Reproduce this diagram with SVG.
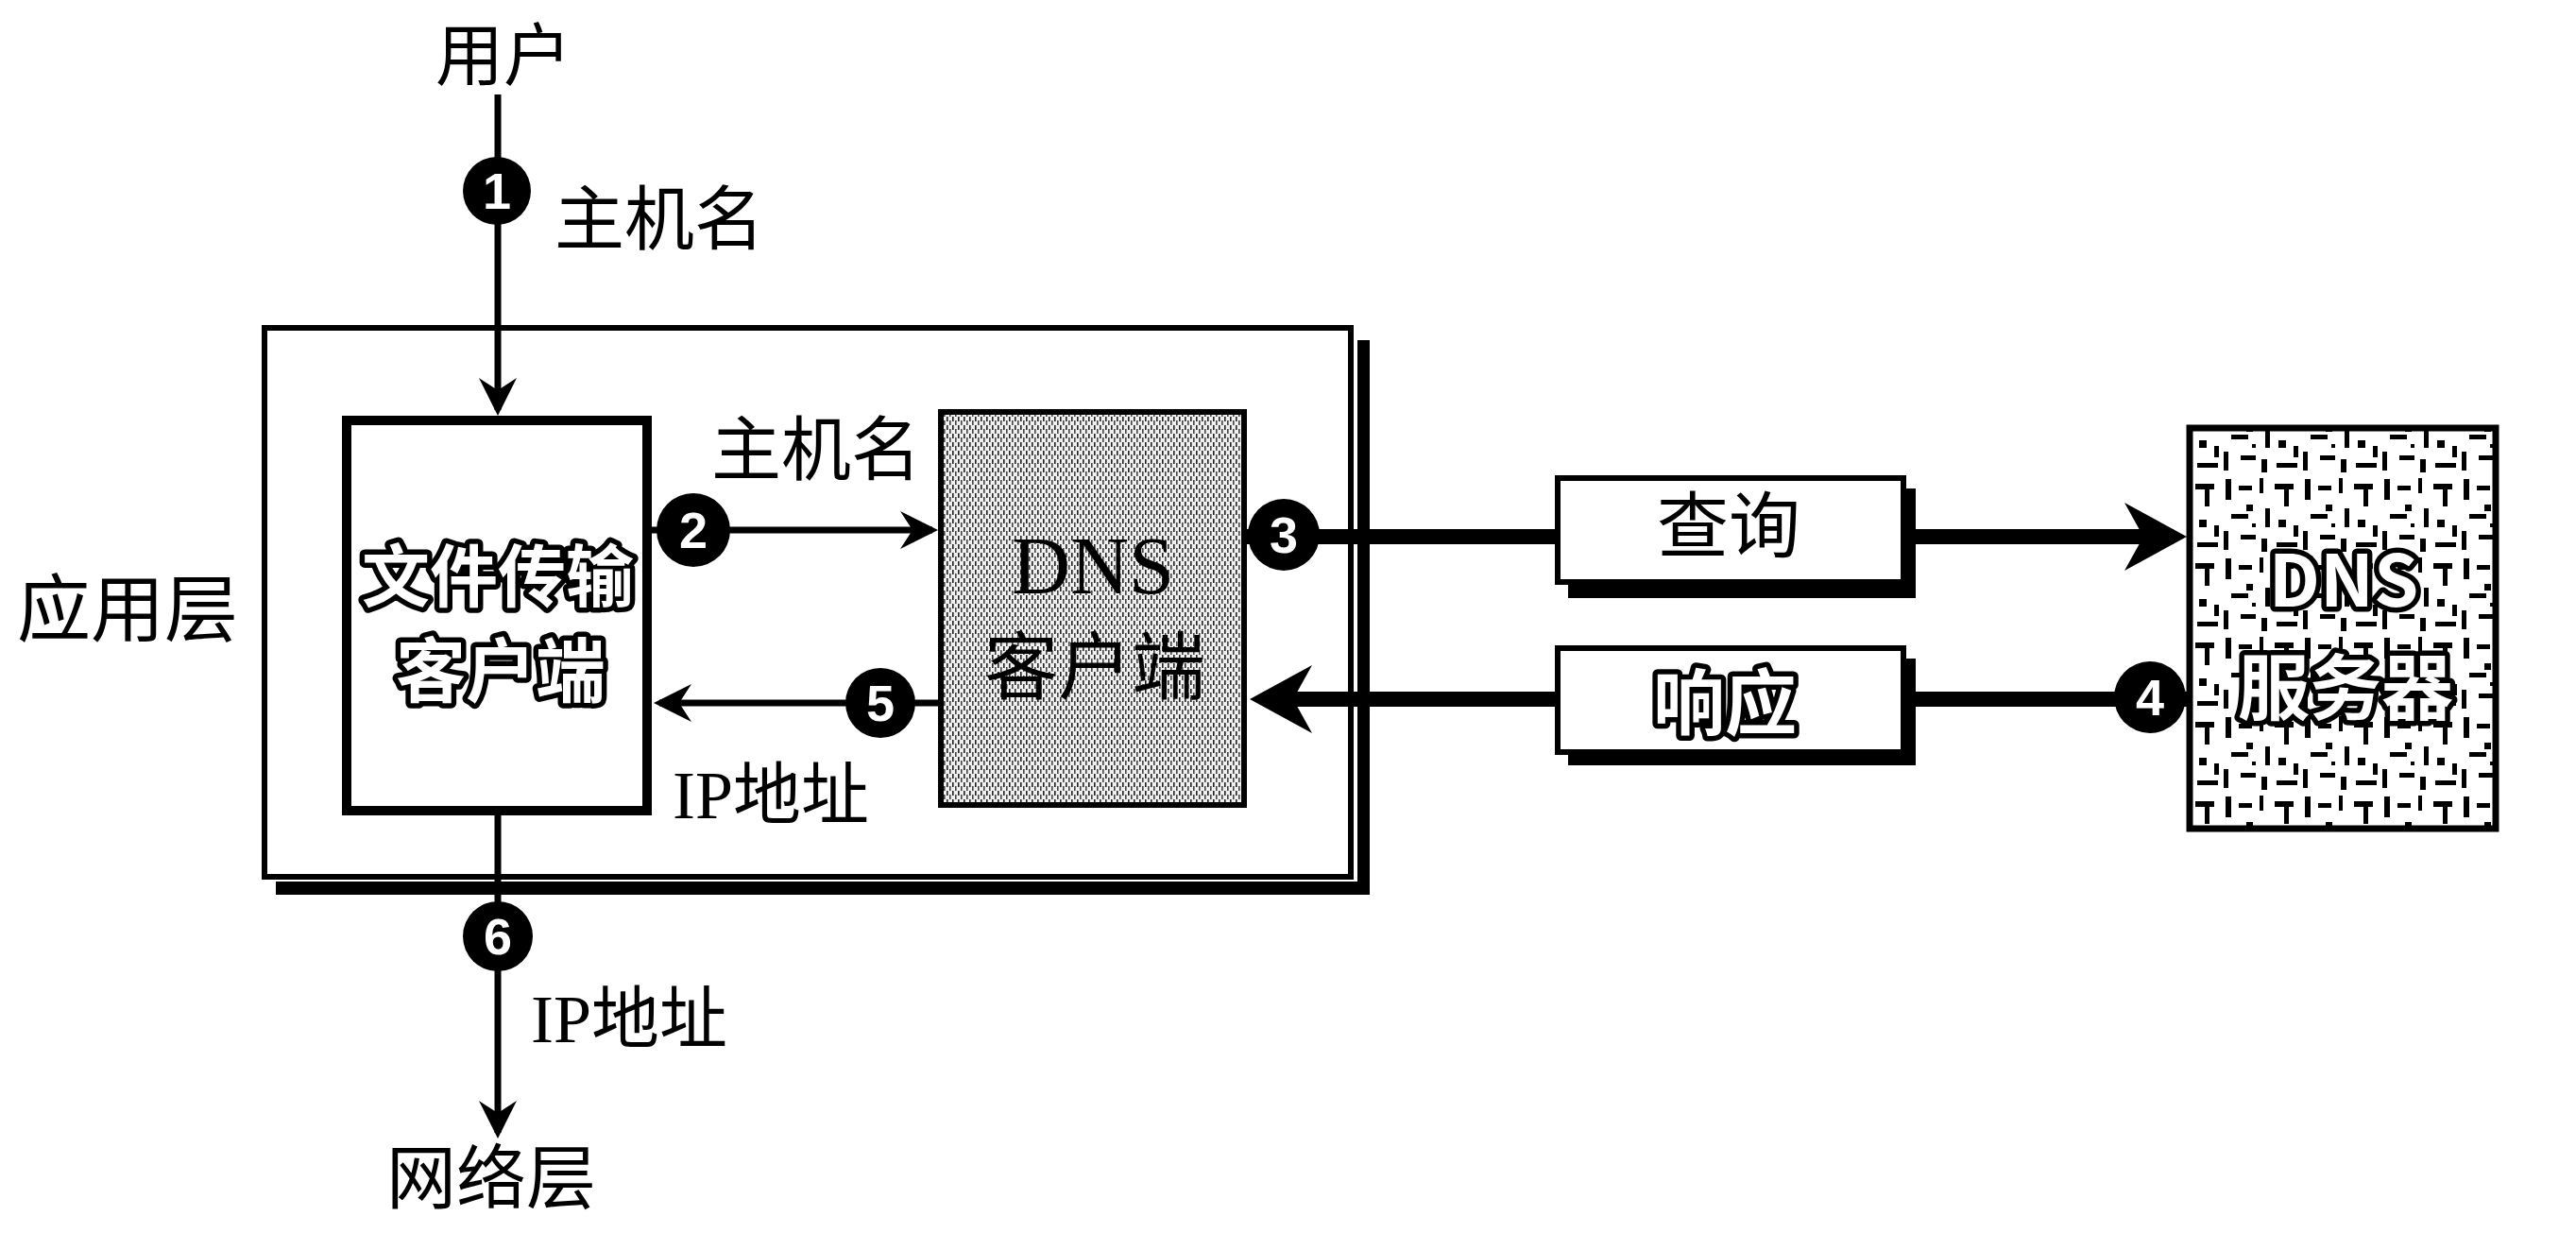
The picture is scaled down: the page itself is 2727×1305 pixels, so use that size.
<svg xmlns="http://www.w3.org/2000/svg" width="2727" height="1305" viewBox="0 0 2727 1305">
<style>
.cjk{font-family:"Noto Sans CJK SC","Liberation Sans",sans-serif;fill:#000}
.mix{font-family:"Liberation Serif","Noto Sans CJK SC",serif;fill:#000}
.out{font-family:"Noto Sans CJK SC","Liberation Sans",sans-serif;font-weight:bold;fill:#fff;stroke:#000;stroke-width:11;paint-order:stroke;stroke-linejoin:round}
.thin{stroke:#000;stroke-width:7;fill:none}
.thick{stroke:#000;stroke-width:16;fill:none}
.box{fill:#fff;stroke:#000;stroke-width:6}
.num{font-family:"Liberation Sans",sans-serif;font-weight:bold;font-size:54px;fill:#fff;text-anchor:middle}
</style>
<defs>
<marker id="ah" viewBox="-44 -24 48 48" refX="-6" refY="0" markerUnits="userSpaceOnUse" markerWidth="48" markerHeight="48" orient="auto">
<path d="M0,0 L-40,-20 L-27,0 L-40,20 Z" fill="#000"/>
</marker>
<marker id="ahT" viewBox="-72 -40 76 80" refX="-14" refY="0" markerUnits="userSpaceOnUse" markerWidth="76" markerHeight="80" orient="auto">
<path d="M0,0 L-66,-36 L-46,0 L-66,36 Z" fill="#000"/>
</marker>
<pattern id="hatch" width="6" height="9" patternUnits="userSpaceOnUse">
<rect width="6" height="9" fill="#f0f0f0"/>
<rect x="0" y="0" width="1.6" height="5" fill="#222"/>
<rect x="3" y="4" width="1.6" height="5" fill="#444"/>
</pattern>
<pattern id="noise" width="84" height="84" patternUnits="userSpaceOnUse">
<rect width="84" height="84" fill="#fff"/>
<rect x="4" y="3" width="6" height="22" fill="#000"/>
<rect x="18" y="10" width="14" height="5" fill="#000"/>
<rect x="40" y="2" width="4" height="16" fill="#000"/>
<rect x="56" y="8" width="20" height="6" fill="#000"/>
<rect x="66" y="14" width="5" height="18" fill="#000"/>
<rect x="26" y="30" width="7" height="7" fill="#000"/>
<rect x="10" y="40" width="18" height="5" fill="#000"/>
<rect x="46" y="34" width="5" height="20" fill="#000"/>
<rect x="60" y="46" width="8" height="8" fill="#000"/>
<rect x="2" y="58" width="5" height="20" fill="#000"/>
<rect x="20" y="62" width="16" height="5" fill="#000"/>
<rect x="42" y="66" width="6" height="14" fill="#000"/>
<rect x="58" y="70" width="22" height="5" fill="#000"/>
<rect x="76" y="52" width="5" height="12" fill="#000"/>
<rect x="32" y="50" width="4" height="4" fill="#000"/>
</pattern>
</defs>
<rect width="2727" height="1305" fill="#fff"/>

<g id="app-layer">
<rect x="292" y="933" width="1158" height="14" fill="#000"/>
<rect x="1437" y="360" width="13" height="587" fill="#000"/>
<rect class="box" x="280" y="347" width="1150" height="581"/>
<text class="cjk" x="18" y="673" font-size="78">应用层</text>
</g>

<g id="connectors">
<line class="thin" x1="527" y1="100" x2="527" y2="434" marker-end="url(#ah)"/>
<line class="thin" x1="527" y1="863" x2="527" y2="1199" marker-end="url(#ah)"/>
<line class="thin" x1="690" y1="561" x2="987" y2="561" marker-end="url(#ah)"/>
<line class="thin" x1="993" y1="744" x2="698" y2="744" marker-end="url(#ah)"/>
<line class="thick" x1="1320" y1="568" x2="1646" y2="568"/>
<line class="thick" x1="2028" y1="568" x2="2301" y2="568" marker-end="url(#ahT)"/>
<line class="thick" x1="2315" y1="740" x2="2028" y2="740"/>
<line class="thick" x1="1646" y1="740" x2="1337" y2="740" marker-end="url(#ahT)"/>
</g>

<g id="user">
<text class="cjk" x="533" y="84" font-size="72" text-anchor="middle">用户</text>
</g>
<g id="network-layer">
<text class="cjk" x="520" y="1273" font-size="74" text-anchor="middle">网络层</text>
</g>

<g id="ftp-client">
<rect x="367" y="445" width="318" height="413" fill="#fff" stroke="#000" stroke-width="10"/>
<text class="out" x="527" y="636" font-size="72" text-anchor="middle">文件传输</text>
<text class="out" x="530" y="737" font-size="74" text-anchor="middle">客户端</text>
</g>

<g id="dns-client">
<rect x="996" y="436" width="321" height="416" fill="url(#hatch)" stroke="#000" stroke-width="6"/>
<text x="1157" y="628" font-family="Liberation Serif, serif" font-size="86" text-anchor="middle" fill="#000">DNS</text>
<text class="cjk" x="1159" y="734" font-size="78" text-anchor="middle">客户端</text>
</g>

<g id="query">
<rect x="1660" y="517" width="368" height="116" fill="#000"/>
<rect class="box" x="1649" y="506" width="366" height="110"/>
<text class="cjk" x="1830" y="584" font-size="76" text-anchor="middle">查询</text>
</g>

<g id="response">
<rect x="1660" y="697" width="368" height="113" fill="#000"/>
<rect class="box" x="1649" y="686" width="366" height="110"/>
<text class="out" x="1826" y="772" font-size="76" text-anchor="middle">响应</text>
</g>

<g id="dns-server">
<rect x="2318" y="453" width="324" height="424" fill="url(#noise)" stroke="#000" stroke-width="7"/>
<text class="out" x="2481" y="642" font-family="Liberation Sans Narrow, Liberation Sans, sans-serif" font-size="76" text-anchor="middle">DNS</text>
<text class="out" x="2483" y="756" font-size="76" text-anchor="middle">服务器</text>
</g>

<g id="labels">
<text class="cjk" x="587" y="258" font-size="74">主机名</text>
<text class="cjk" x="753" y="502" font-size="74">主机名</text>
<text class="mix" x="712" y="866" font-size="72">IP地址</text>
<text class="mix" x="562" y="1103" font-size="72">IP地址</text>
</g>

<g id="steps">
<circle cx="526" cy="202" r="36" fill="#000"/><text class="num" x="526" y="221">1</text>
<circle cx="734" cy="561" r="39" fill="#000"/><text class="num" x="734" y="580">2</text>
<circle cx="1359" cy="566" r="38" fill="#000"/><text class="num" x="1359" y="585">3</text>
<circle cx="2276" cy="738" r="38" fill="#000"/><text class="num" x="2276" y="757">4</text>
<circle cx="932" cy="744" r="37" fill="#000"/><text class="num" x="932" y="763">5</text>
<circle cx="527" cy="991" r="37" fill="#000"/><text class="num" x="527" y="1010">6</text>
</g>
</svg>
